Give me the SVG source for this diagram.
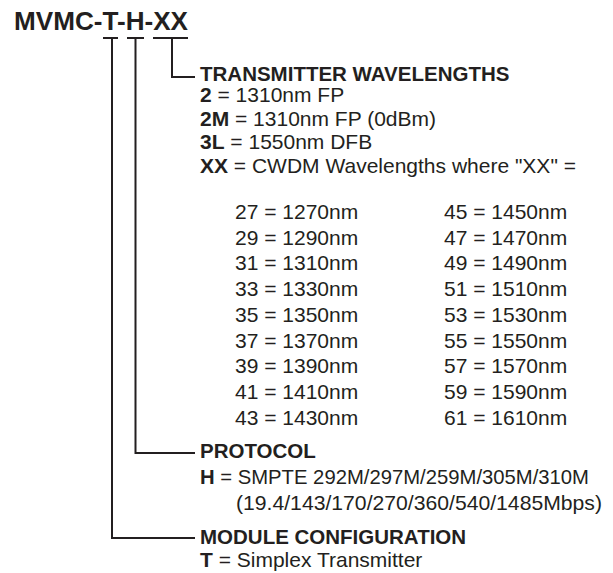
<svg xmlns="http://www.w3.org/2000/svg" width="613" height="573" viewBox="0 0 613 573">
<style>
text{font-family:"Liberation Sans",Arial,sans-serif;fill:#231f20}
.t{font-size:25px;font-weight:bold}
.h{font-size:20.5px;font-weight:bold}
.b{font-size:21px}
.k{font-weight:bold}
.ln{stroke:#231f20;stroke-width:2;fill:none}
</style>
<rect width="613" height="573" fill="#fff"/>
<g id="title">
<text class="t" x="14" y="30" textLength="174" lengthAdjust="spacingAndGlyphs">MVMC-T-H-XX</text>
</g>
<g id="connectors">
<path class="ln" d="M103 38H118M127 38H144M153 38H188"/>
<path class="ln" d="M172 38V77H195"/>
<path class="ln" d="M135.5 38V453H195"/>
<path class="ln" d="M112 38V538H195"/>
</g>
<g id="wavelengths">
<text class="h" x="200" y="81">TRANSMITTER WAVELENGTHS</text>
<text class="b" x="200" y="102"><tspan class="k">2</tspan> = 1310nm FP</text>
<text class="b" x="200" y="125.5"><tspan class="k">2M</tspan> = 1310nm FP (0dBm)</text>
<text class="b" x="200" y="149"><tspan class="k">3L</tspan> = 1550nm DFB</text>
<text class="b" x="200" y="172.5"><tspan class="k">XX</tspan> = CWDM Wavelengths where "XX" =</text>
<g id="cwdm-table">
<text class="b" x="235" y="219">27 = 1270nm</text>
<text class="b" x="235" y="244.7">29 = 1290nm</text>
<text class="b" x="235" y="270.4">31 = 1310nm</text>
<text class="b" x="235" y="296.1">33 = 1330nm</text>
<text class="b" x="235" y="321.8">35 = 1350nm</text>
<text class="b" x="235" y="347.5">37 = 1370nm</text>
<text class="b" x="235" y="373.2">39 = 1390nm</text>
<text class="b" x="235" y="398.9">41 = 1410nm</text>
<text class="b" x="235" y="424.6">43 = 1430nm</text>
<text class="b" x="444" y="219">45 = 1450nm</text>
<text class="b" x="444" y="244.7">47 = 1470nm</text>
<text class="b" x="444" y="270.4">49 = 1490nm</text>
<text class="b" x="444" y="296.1">51 = 1510nm</text>
<text class="b" x="444" y="321.8">53 = 1530nm</text>
<text class="b" x="444" y="347.5">55 = 1550nm</text>
<text class="b" x="444" y="373.2">57 = 1570nm</text>
<text class="b" x="444" y="398.9">59 = 1590nm</text>
<text class="b" x="444" y="424.6">61 = 1610nm</text>
</g>
</g>
<g id="protocol">
<text class="h" x="200" y="458">PROTOCOL</text>
<text class="b" x="200" y="484" textLength="389" lengthAdjust="spacingAndGlyphs"><tspan class="k">H</tspan> = SMPTE 292M/297M/259M/305M/310M</text>
<text class="b" x="236" y="510" textLength="366" lengthAdjust="spacingAndGlyphs">(19.4/143/170/270/360/540/1485Mbps)</text>
</g>
<g id="module">
<text class="h" x="200" y="544">MODULE CONFIGURATION</text>
<text class="b" x="200" y="567"><tspan class="k">T</tspan> = Simplex Transmitter</text>
</g>
</svg>
